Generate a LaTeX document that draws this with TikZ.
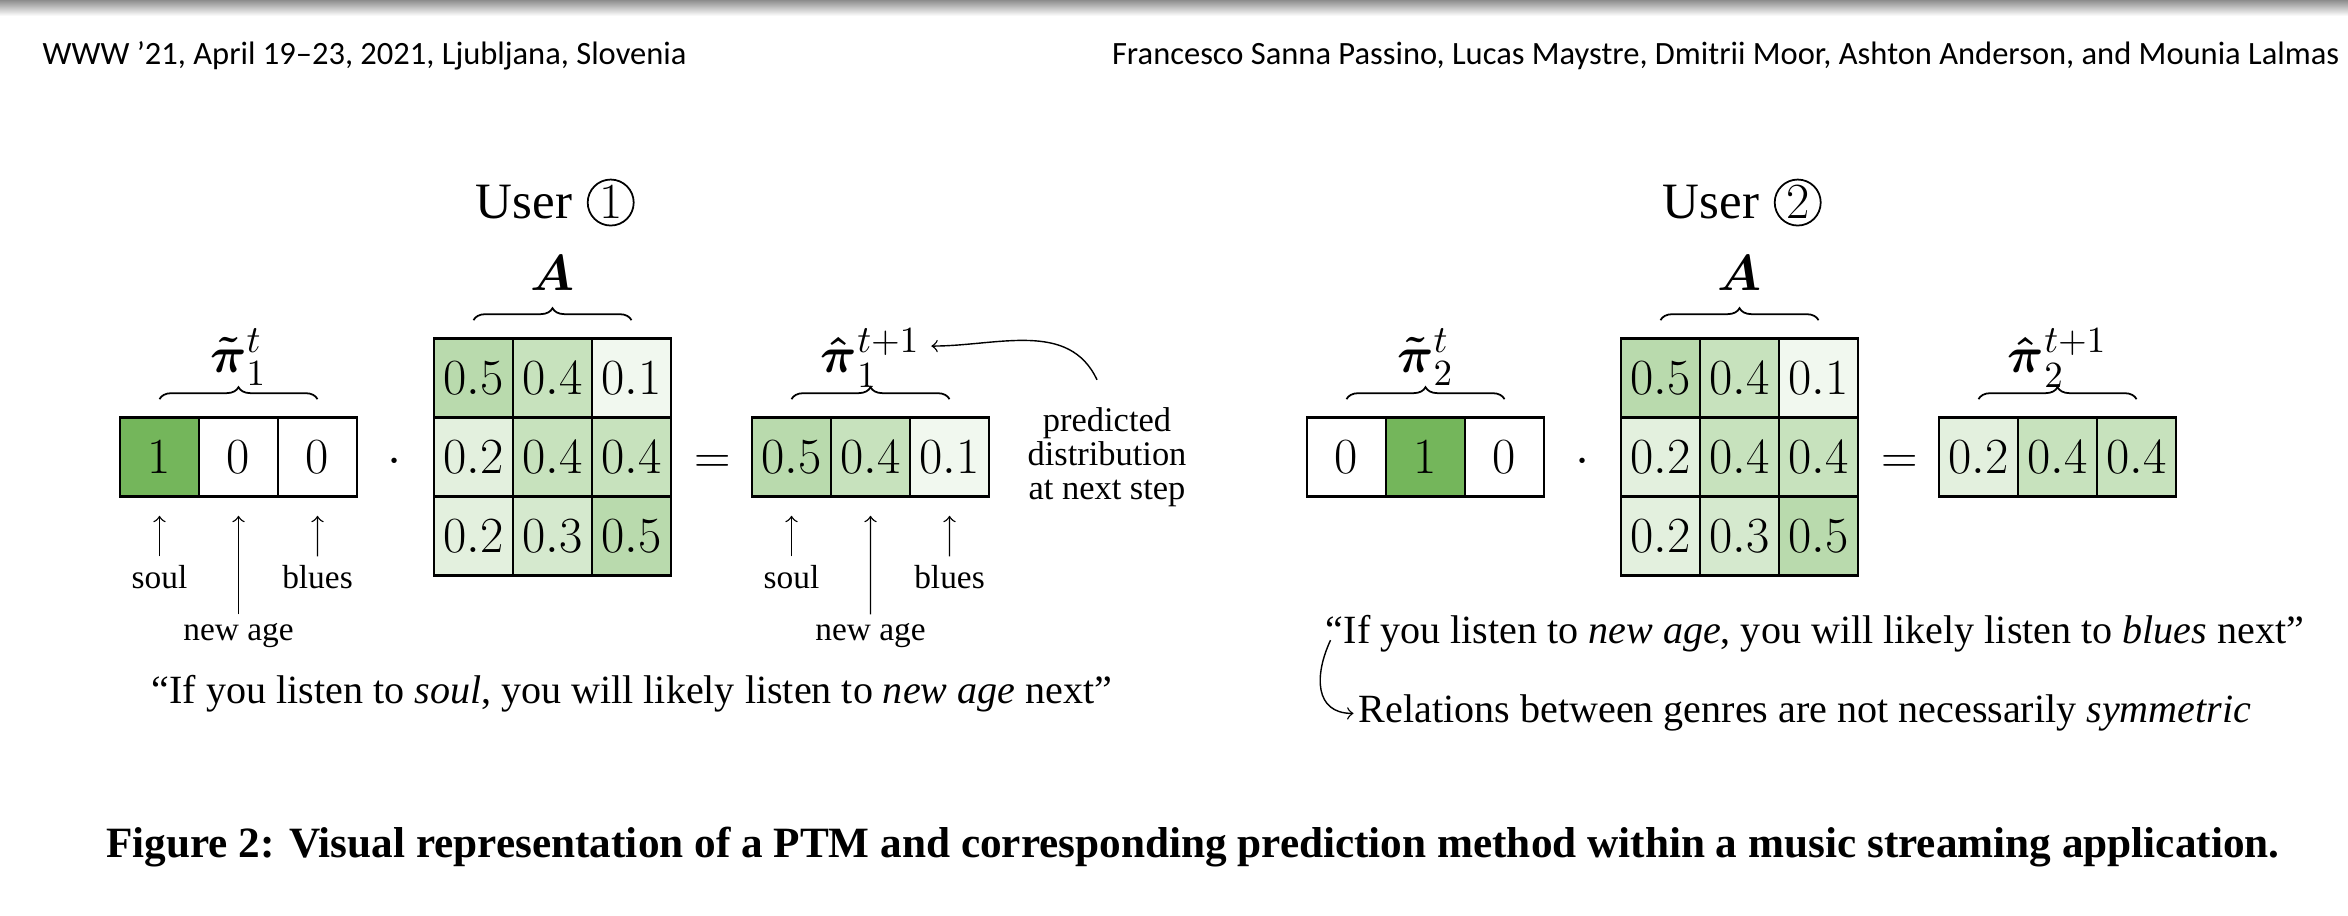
\documentclass[tikz,border=0pt]{standalone}
\usepackage{amsmath}
\usepackage[no-math]{fontspec}
\setmainfont{Liberation Serif}
\newfontfamily\headfont{Carlito}
\DeclareFontShape{OT1}{cmr}{m}{n}{<-6> cmr5 <6-7> cmr6 <7-8> cmr7 <8-9> cmr8 <9-10> cmr9 <10-12> cmr10 <12-14> cmr12 <14-> cmr17}{}
\usetikzlibrary{positioning,decorations.pathreplacing,calc}
\definecolor{leaf}{HTML}{74B65B}

\tikzset{
  cell/.style={draw, line width=0.75pt, minimum width=0.79cm, minimum height=0.79cm,
    inner sep=0pt, font=\fontsize{14.4}{17}\selectfont},
  sym/.style={anchor=base, font=\fontsize{14.4}{17}\selectfont},
  vecname/.style={anchor=base, inner sep=3pt, font=\fontsize{15}{18}\selectfont},
  genre/.style={anchor=base, inner sep=2.5pt, font=\fontsize{9.5}{11}\selectfont},
  pointer/.style={->, line width=0.4pt},
  saying/.style={font=\fontsize{11.4}{14}\selectfont},
  usertitle/.style={anchor=base, inner sep=0pt, font=\fontsize{14.5}{17}\selectfont},
  badge/.style={circle, draw, line width=0.5pt, minimum size=0.46cm, inner sep=0pt,
    font=\fontsize{14.4}{17}\selectfont},
  overbrace/.style={decorate, decoration={brace, amplitude=0.12cm}, line width=0.5pt},
  header/.style={inner sep=0pt, font=\headfont\fontsize{9.25}{11}\selectfont}
}

\begin{document}
\begin{tikzpicture}
  \useasboundingbox (0,0) rectangle (23.48,9.16);
  \shade[top color=black!45, bottom color=white] (0,9.16) rectangle (23.48,9.0);

  % running head
  \node[header, anchor=base west] (headl) at (0.42,8.51) {WWW ’21, April 19–23, 2021, Ljubljana, Slovenia};
  \node[header, anchor=base east] (headr) at (23.40,8.51) {Francesco Sanna Passino, Lucas Maystre, Dmitrii Moor, Ashton Anderson, and Mounia Lalmas};

  % user 1
  \begin{scope}
    \foreach \val [count=\ii] in {1,0,0} {
      \pgfmathtruncatemacro\pc{round(100*\val)}
      \node[cell, fill=leaf!\pc!white] (p1-\ii) at ({1.595+(\ii-1)*0.79},4.59) {$\val$};
    }
    \foreach \row [count=\ii] in {{0.5,0.4,0.1},{0.2,0.4,0.4},{0.2,0.3,0.5}} {
      \foreach \val [count=\jj] in \row {
        \pgfmathtruncatemacro\pc{round(100*\val)}
        \node[cell, fill=leaf!\pc!white] (a1-\ii-\jj) at ({4.735+(\jj-1)*0.79},{5.38-(\ii-1)*0.79}) {$\val$};
      }
    }
    \foreach \val [count=\ii] in {0.5,0.4,0.1} {
      \pgfmathtruncatemacro\pc{round(100*\val)}
      \node[cell, fill=leaf!\pc!white] (q1-\ii) at ({7.915+(\ii-1)*0.79},4.59) {$\val$};
    }
    \node[sym] (dot1) at (3.95,4.425) {$\cdot$};
    \node[sym] (eq1) at (7.13,4.425) {$=$};

    \draw[overbrace] ([yshift=0.17cm]p1-1.north) -- ([yshift=0.17cm]p1-3.north);
    \draw[overbrace] ([yshift=0.17cm]a1-1-1.north) -- ([yshift=0.17cm]a1-1-3.north);
    \draw[overbrace] ([yshift=0.17cm]q1-1.north) -- ([yshift=0.17cm]q1-3.north);

    \node[vecname] (tilde1) at (2.385,5.43) {$\boldsymbol{\tilde{\pi}}_1^t$};
    \node[vecname] (amat1) at (5.525,6.25) {$\boldsymbol{A}$};
    \node[vecname] (hat1) at (8.705,5.43) {$\boldsymbol{\hat{\pi}}_1^{t+1}$};
    \node[usertitle] (user1) at (5.24,6.97) {User};
    \node[badge, right=0.14cm of user1] (badge1) {$1$};

    \node[align=center, font=\fontsize{9.8}{9.7}\selectfont] (note1) at (11.07,4.59) {predicted\\distribution\\at next step};
    \draw[pointer] ([xshift=-0.1cm,yshift=0.15cm]note1.north) to[out=115, in=0] ([yshift=0.12cm]hat1.east);

    \node[genre] (soul1) at (1.595,3.27) {soul};
    \node[genre] (age1) at (2.385,2.75) {new age};
    \node[genre] (blues1) at (3.175,3.27) {blues};
    \node[genre] (soul1b) at (7.915,3.27) {soul};
    \node[genre] (age1b) at (8.705,2.75) {new age};
    \node[genre] (blues1b) at (9.495,3.27) {blues};
    \draw[pointer] (soul1) -- ([yshift=-0.18cm]p1-1.south);
    \draw[pointer] (age1) -- ([yshift=-0.18cm]p1-2.south);
    \draw[pointer] (blues1) -- ([yshift=-0.18cm]p1-3.south);
    \draw[pointer] (soul1b) -- ([yshift=-0.18cm]q1-1.south);
    \draw[pointer] (age1b) -- ([yshift=-0.18cm]q1-2.south);
    \draw[pointer] (blues1b) -- ([yshift=-0.18cm]q1-3.south);

    \node[saying, anchor=base] (say1) at (6.32,2.12) {“If you listen to \textit{soul}, you will likely listen to \textit{new age} next”};
  \end{scope}

  % user 2
  \begin{scope}[xshift=11.87cm]
    \foreach \val [count=\ii] in {0,1,0} {
      \pgfmathtruncatemacro\pc{round(100*\val)}
      \node[cell, fill=leaf!\pc!white] (p2-\ii) at ({1.595+(\ii-1)*0.79},4.59) {$\val$};
    }
    \foreach \row [count=\ii] in {{0.5,0.4,0.1},{0.2,0.4,0.4},{0.2,0.3,0.5}} {
      \foreach \val [count=\jj] in \row {
        \pgfmathtruncatemacro\pc{round(100*\val)}
        \node[cell, fill=leaf!\pc!white] (a2-\ii-\jj) at ({4.735+(\jj-1)*0.79},{5.38-(\ii-1)*0.79}) {$\val$};
      }
    }
    \foreach \val [count=\ii] in {0.2,0.4,0.4} {
      \pgfmathtruncatemacro\pc{round(100*\val)}
      \node[cell, fill=leaf!\pc!white] (q2-\ii) at ({7.915+(\ii-1)*0.79},4.59) {$\val$};
    }
    \node[sym] (dot2) at (3.95,4.425) {$\cdot$};
    \node[sym] (eq2) at (7.13,4.425) {$=$};

    \draw[overbrace] ([yshift=0.17cm]p2-1.north) -- ([yshift=0.17cm]p2-3.north);
    \draw[overbrace] ([yshift=0.17cm]a2-1-1.north) -- ([yshift=0.17cm]a2-1-3.north);
    \draw[overbrace] ([yshift=0.17cm]q2-1.north) -- ([yshift=0.17cm]q2-3.north);

    \node[vecname] (tilde2) at (2.385,5.43) {$\boldsymbol{\tilde{\pi}}_2^t$};
    \node[vecname] (amat2) at (5.525,6.25) {$\boldsymbol{A}$};
    \node[vecname] (hat2) at (8.705,5.43) {$\boldsymbol{\hat{\pi}}_2^{t+1}$};
    \node[usertitle] (user2) at (5.24,6.97) {User};
    \node[badge, right=0.14cm of user2] (badge2) {$2$};

    \node[saying, anchor=base west] (say2) at (1.265,2.72) {“If you listen to \textit{new age}, you will likely listen to \textit{blues} next”};
    \node[saying, anchor=base west] (rel2) at (1.595,1.93) {Relations between genres are not necessarily \textit{symmetric}};
    \draw[pointer] ([xshift=0.17cm,yshift=-0.06cm]say2.west) to[out=245, in=180, looseness=1.3] ([xshift=0.07cm]rel2.west);
  \end{scope}

  % caption
  \node[anchor=base, inner sep=0pt, font=\bfseries\fontsize{12.3}{15}\selectfont] (cap) at (11.93,0.58)
    {Figure 2: Visual representation of a PTM and corresponding prediction method within a music streaming application.};
\end{tikzpicture}
\end{document}
